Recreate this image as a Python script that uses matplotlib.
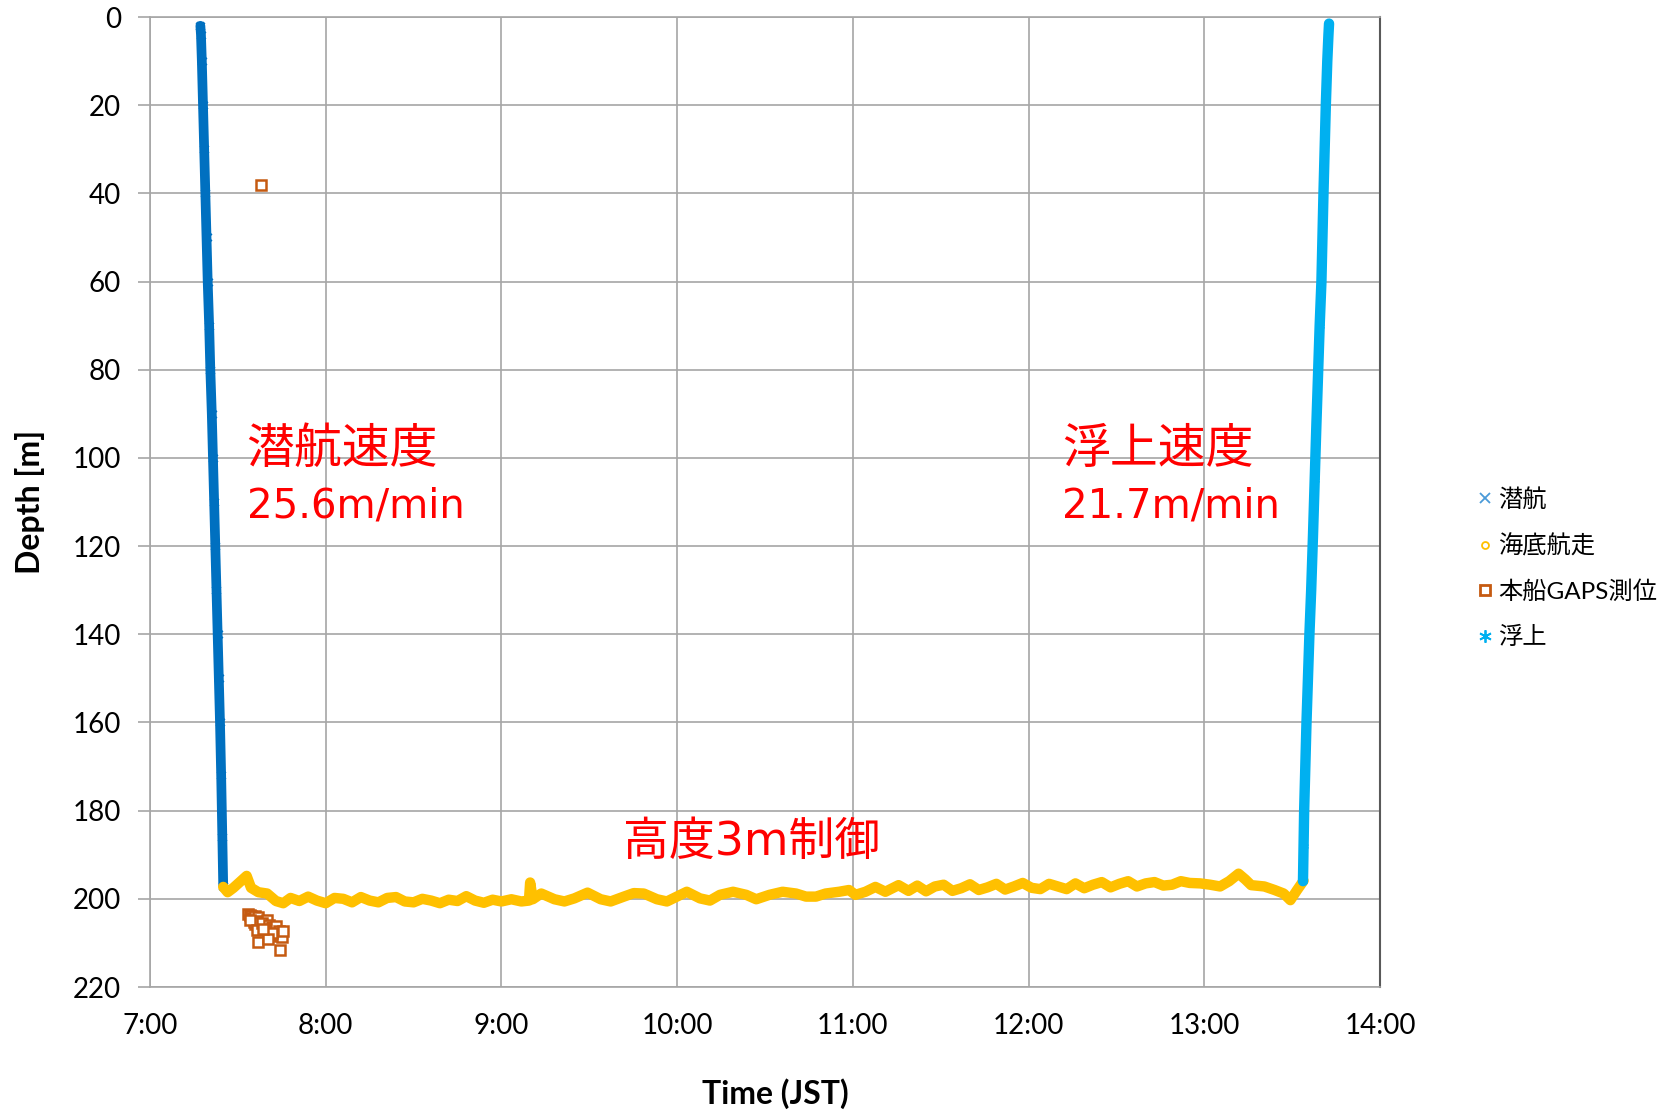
import matplotlib.pyplot as plt
from matplotlib.lines import Line2D

plt.rcParams['font.family'] = ['Lato', 'Noto Sans CJK JP']

# times are minutes after 7:00, depths in metres
dive_t = [17.2, 17.4, 17.7, 18.1, 18.5, 18.9, 19.3, 19.7, 20.2, 20.6, 21.1,
          21.5, 21.9, 22.3, 22.7, 23.1, 23.5, 23.9, 24.3, 24.7, 25.0]
dive_d = [2.0, 4.0, 10.0, 20.0, 30.0, 40.0, 50.0, 60.0, 70.0, 80.0, 90.0,
          100.0, 110.0, 120.0, 130.0, 140.0, 150.0, 160.0, 172.0, 186.0, 197.0]

floor_t = [25.0, 26.5, 28.5, 31.0, 33.0, 34.5, 37.0, 40.0, 43.0, 45.5, 48.0,
           51.0, 54.0, 57.0, 60.0, 63.0, 66.0, 69.0, 72.0, 75.0, 78.0, 81.0,
           84.0, 87.0, 90.0, 93.0, 96.0, 99.0, 102.0, 105.0, 108.0, 111.0,
           114.0, 117.0, 120.0, 123.4, 126.8, 129.4, 129.8, 130.7, 133.6,
           138.1, 141.5, 144.9, 149.4, 153.9, 157.3, 161.8, 165.2, 168.6,
           173.1, 176.5, 179.9, 183.3, 187.8, 191.2, 194.6, 199.1, 203.6,
           207.0, 211.5, 216.0, 220.6, 224.0, 227.4, 230.7, 235.3, 238.7,
           240.9, 244.3, 247.7, 251.1, 255.6, 259.0, 262.0, 265.0, 268.0,
           271.0, 274.0, 277.0, 280.0, 283.0, 286.0, 289.0, 292.0, 295.0,
           298.0, 301.0, 304.0, 307.0, 310.0, 313.0, 316.0, 319.0, 322.0,
           325.0, 328.0, 331.0, 334.0, 337.0, 340.0, 343.0, 346.0, 349.0,
           352.0, 355.0, 358.6, 362.0, 365.4, 368.5, 371.7, 374.0, 376.0,
           380.5, 384.0, 387.1, 389.4, 391.7, 393.9]
floor_d = [197.3, 198.5, 197.5, 196.0, 194.8, 197.5, 198.5, 198.8, 200.5,
           201.0, 199.8, 200.5, 199.5, 200.4, 201.0, 199.8, 200.0, 200.8,
           199.6, 200.4, 200.8, 199.8, 199.6, 200.6, 200.8, 200.0, 200.4,
           201.0, 200.2, 200.5, 199.4, 200.4, 200.9, 200.2, 200.6, 200.1,
           200.6, 200.4, 196.3, 200.1, 198.8, 200.1, 200.6, 199.9, 198.6,
           200.1, 200.6, 199.5, 198.7, 198.8, 200.1, 200.6, 199.5, 198.4,
           199.9, 200.4, 199.1, 198.4, 199.1, 200.1, 199.1, 198.4, 198.8,
           199.5, 199.5, 198.8, 198.4, 198.0, 199.1, 198.4, 197.3, 198.4,
           196.9, 198.2, 197.0, 198.3, 197.2, 196.8, 198.2, 197.6, 196.7,
           198.0, 197.4, 196.6, 197.9, 197.2, 196.4, 197.5, 197.8, 196.6,
           197.2, 197.8, 196.5, 197.6, 196.8, 196.2, 197.4, 196.6, 196.0,
           197.2, 196.5, 196.2, 197.0, 196.8, 196.0, 196.4, 196.5, 196.8,
           197.2, 196.0, 194.3, 195.6, 196.9, 197.2, 198.0, 198.8, 200.3,
           198.0, 195.9]

gaps_t = [37.9, 33.5, 34.1, 34.5, 35.0, 35.3, 36.0, 37.0, 35.9, 36.5, 35.5,
          34.0, 39.8, 36.4, 37.0, 38.1, 40.5, 41.5, 42.1, 42.5, 43.0, 43.3,
          44.0, 43.5, 44.5, 45.0, 44.4, 41.5, 40.4, 38.7, 45.5]
gaps_d = [38.0, 203.5, 203.7, 203.8, 204.6, 204.4, 204.0, 204.1, 205.7,
          205.0, 205.3, 204.9, 204.8, 207.0, 209.7, 205.5, 206.0, 206.5,
          206.7, 207.0, 206.2, 208.2, 207.3, 208.0, 208.5, 208.6, 211.6,
          207.8, 209.0, 206.9, 207.2]

rise_t = [393.7, 393.9, 394.1, 394.5, 394.9, 395.4, 395.9, 396.5, 397.1,
          397.7, 398.3, 398.9, 399.4, 400.0, 400.7, 401.5, 402.0, 402.4, 402.6]
rise_d = [196.0, 188.0, 180.0, 170.0, 160.0, 150.0, 140.0, 130.0, 118.0,
          105.0, 92.0, 80.0, 70.0, 60.0, 40.0, 20.0, 10.0, 4.0, 1.5]

hours = [7, 8, 9, 10, 11, 12, 13, 14]
depth_ticks = list(range(0, 221, 20))

c_dive = '#0070C0'
c_floor = '#FFC000'
c_gaps = '#C55A11'
c_rise = '#00B0F0'


def hr(t):
    return [7 + m / 60 for m in t]


fig = plt.figure(figsize=(16.72, 11.11), dpi=100)
ax = fig.add_axes([150 / 1672, 1 - 987 / 1111, 1230 / 1672, 970 / 1111])

ax.plot(hr(dive_t), dive_d, color=c_dive, lw=7, marker='x', ms=6, mew=2,
        solid_capstyle='round', zorder=3)
ax.plot(hr(floor_t), floor_d, color=c_floor, lw=7.5, solid_joinstyle='round',
        solid_capstyle='round', zorder=4)
ax.plot(hr(gaps_t), gaps_d, ls='none', marker='s', ms=7.5, mfc='white',
        mec=c_gaps, mew=1.8, zorder=5)
ax.plot(hr(rise_t), rise_d, color=c_rise, lw=7.5, marker=(6, 2, 0), ms=6,
        mew=1.5, solid_capstyle='round', solid_joinstyle='round', zorder=6)

ax.set_xlim(7, 14)
ax.set_ylim(220, 0)
ax.set_xticks(hours)
ax.set_xticklabels([f'{h}:00' for h in hours])
ax.set_yticks(depth_ticks)
ax.grid(True, color='#a6a6a6', lw=1.2)
ax.set_axisbelow(True)
ax.tick_params(axis='x', length=0, pad=19, labelsize=20)
ax.tick_params(axis='y', length=9, width=1.2, color='#a6a6a6', pad=12,
               labelsize=20)
for side in ['left', 'bottom', 'top']:
    ax.spines[side].set_color('#a6a6a6')
    ax.spines[side].set_linewidth(1.2)
ax.spines['right'].set_color('#595959')
ax.spines['right'].set_linewidth(1.5)

ax.set_ylabel('Depth [m]', fontsize=23, fontweight='bold')
ax.yaxis.set_label_coords(-0.0854, 0.5)
ax.set_xlabel('Time (JST)', fontsize=23, fontweight='bold')
ax.xaxis.set_label_coords(0.508, -0.094)

txt_fam = ['DejaVu Sans', 'Noto Sans CJK JP']
ax.text(7.549, 98.1, '潜航速度', color='red', fontsize=34.5, family=txt_fam,
        va='center', ha='left')
ax.text(7.552, 113.6, '25.6m/min', color='red', fontsize=29, family=txt_fam,
        va='baseline', ha='left')
ax.text(12.19, 98.1, '浮上速度', color='red', fontsize=34.5, family=txt_fam,
        va='center', ha='left')
ax.text(12.19, 113.6, '21.7m/min', color='red', fontsize=29, family=txt_fam,
        va='baseline', ha='left')
ax.text(9.69, 187.2, '高度3m制御', color='red', fontsize=33, family=txt_fam,
        va='center', ha='left')

handles = [
    Line2D([], [], ls='none', marker='x', ms=6.5, mew=1.3, color='#4a9ad8'),
    Line2D([], [], ls='none', marker='o', ms=5, mfc='white', mec=c_floor,
           mew=1.3),
    Line2D([], [], ls='none', marker='s', ms=7.5, mfc='white', mec=c_gaps,
           mew=2),
    Line2D([], [], ls='none', marker=(6, 2, 0), ms=9, mew=1.3, color=c_rise),
]
labels = ['潜航', '海底航走', '本船GAPS測位', '浮上']
fig.legend(handles, labels, loc='center left',
           bbox_to_anchor=(1475 / 1672, 1 - 568 / 1111), frameon=False,
           fontsize=17.5, handlelength=0.8, handletextpad=0.15,
           labelspacing=0.95, borderpad=0, borderaxespad=0)

fig.savefig('out.png', dpi=100)
